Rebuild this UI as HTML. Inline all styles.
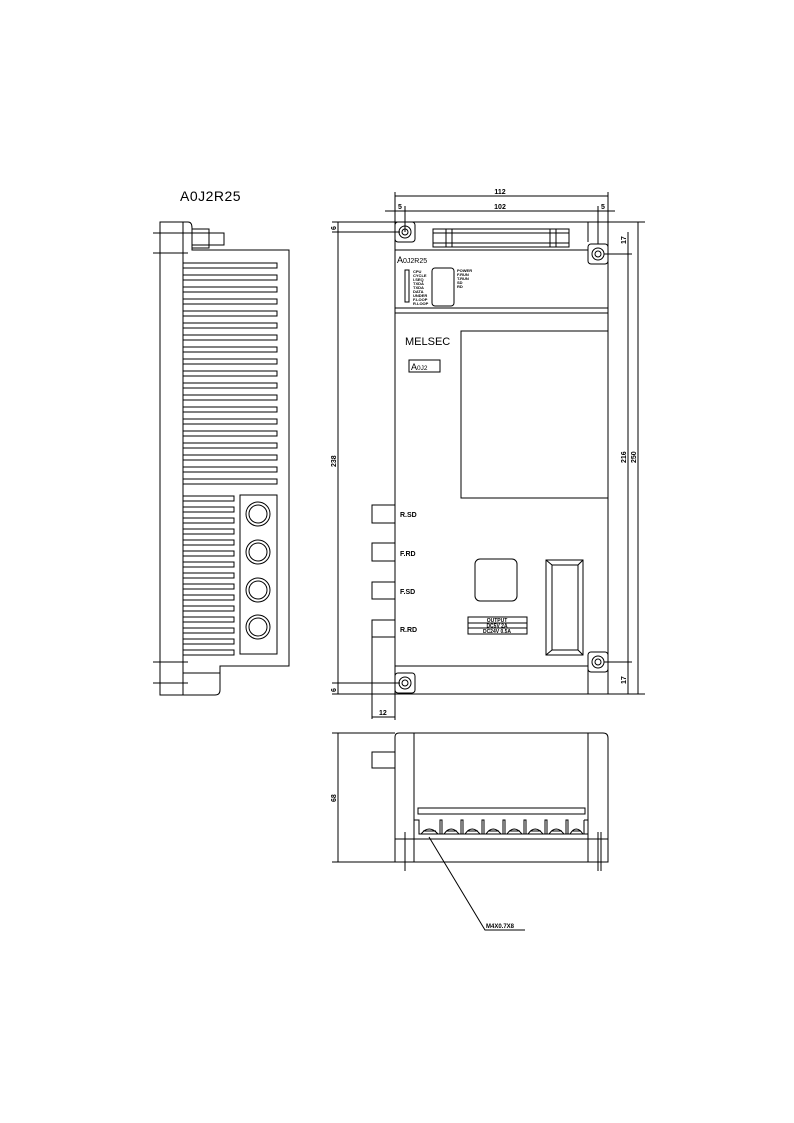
<!DOCTYPE html>
<html><head><meta charset="utf-8"><style>
html,body{margin:0;padding:0;background:#fff}
svg{display:block}
text{font-family:"Liberation Sans",sans-serif;fill:#000}
.d{font-size:7px;font-weight:bold}
</style></head><body>
<svg width="794" height="1123" viewBox="0 0 794 1123" xmlns="http://www.w3.org/2000/svg" fill="none" stroke="#000" stroke-width="1">
<!-- SIDE VIEW -->
<text x="180" y="201" stroke="none" style="font-size:14px;letter-spacing:0.5px">A0J2R25</text>
<path d="M160,222 H188 Q192,222 192,228 V250 H289 V666 H220 V690 Q220,695 215,695 H160 Z"/>
<line x1="183" y1="222" x2="183" y2="695"/>
<rect x="192" y="229" width="17" height="19"/>
<rect x="192" y="233" width="32" height="12"/>
<line x1="153" y1="233" x2="192" y2="233"/>
<line x1="153" y1="253" x2="188" y2="253"/>
<line x1="153" y1="662" x2="188" y2="662"/>
<line x1="153" y1="683" x2="188" y2="683"/>
<line x1="183" y1="673" x2="220" y2="673"/>
<g>
<rect x="183" y="263" width="94" height="5"/><rect x="183" y="275" width="94" height="5"/><rect x="183" y="287" width="94" height="5"/><rect x="183" y="299" width="94" height="5"/><rect x="183" y="311" width="94" height="5"/><rect x="183" y="323" width="94" height="5"/><rect x="183" y="335" width="94" height="5"/><rect x="183" y="347" width="94" height="5"/><rect x="183" y="359" width="94" height="5"/><rect x="183" y="371" width="94" height="5"/><rect x="183" y="383" width="94" height="5"/><rect x="183" y="395" width="94" height="5"/><rect x="183" y="407" width="94" height="5"/><rect x="183" y="419" width="94" height="5"/><rect x="183" y="431" width="94" height="5"/><rect x="183" y="443" width="94" height="5"/><rect x="183" y="455" width="94" height="5"/><rect x="183" y="467" width="94" height="5"/><rect x="183" y="479" width="94" height="5"/>
<rect x="183" y="496" width="51" height="5"/><rect x="183" y="507" width="51" height="5"/><rect x="183" y="518" width="51" height="5"/><rect x="183" y="529" width="51" height="5"/><rect x="183" y="540" width="51" height="5"/><rect x="183" y="551" width="51" height="5"/><rect x="183" y="562" width="51" height="5"/><rect x="183" y="573" width="51" height="5"/><rect x="183" y="584" width="51" height="5"/><rect x="183" y="595" width="51" height="5"/><rect x="183" y="606" width="51" height="5"/><rect x="183" y="617" width="51" height="5"/><rect x="183" y="628" width="51" height="5"/><rect x="183" y="639" width="51" height="5"/><rect x="183" y="650" width="51" height="5"/>
</g>
<rect x="240" y="495" width="37" height="159"/>
<circle cx="258" cy="514" r="12"/><circle cx="258" cy="514" r="9"/>
<circle cx="258" cy="552" r="12"/><circle cx="258" cy="552" r="9"/>
<circle cx="258" cy="590" r="12"/><circle cx="258" cy="590" r="9"/>
<circle cx="258" cy="627" r="12"/><circle cx="258" cy="627" r="9"/>

<!-- FRONT VIEW -->
<path d="M395,222 H608 V694 H395 Z"/>
<line x1="395" y1="250" x2="588" y2="250"/>
<line x1="588" y1="222" x2="588" y2="242"/>
<line x1="395" y1="308" x2="608" y2="308"/>
<line x1="395" y1="313" x2="608" y2="313"/>
<line x1="395" y1="666" x2="588" y2="666"/>
<line x1="588" y1="655" x2="588" y2="694"/>
<rect x="395" y="222" width="20" height="20" rx="3"/>
<circle cx="405" cy="232" r="6"/><circle cx="405" cy="232" r="3"/>
<rect x="588" y="244" width="20" height="20" rx="3"/>
<circle cx="598" cy="254" r="6"/><circle cx="598" cy="254" r="3"/>
<rect x="395" y="673" width="20" height="20" rx="3"/>
<circle cx="405" cy="683" r="6"/><circle cx="405" cy="683" r="3"/>
<rect x="588" y="652" width="20" height="20" rx="3"/>
<circle cx="598" cy="662" r="6"/><circle cx="598" cy="662" r="3"/>
<rect x="433" y="229" width="136" height="18"/>
<rect x="433" y="233" width="136" height="10"/>
<line x1="446" y1="229" x2="446" y2="247"/><line x1="452" y1="229" x2="452" y2="247"/>
<line x1="550" y1="229" x2="550" y2="247"/><line x1="556" y1="229" x2="556" y2="247"/>
<text x="397" y="263" stroke="none" style="font-size:9px">A<tspan style="font-size:7px">0J2R25</tspan></text>
<rect x="405" y="270" width="4" height="32"/>
<g stroke="none" style="font-size:4px;font-weight:bold">
<text x="413" y="273">CPU</text><text x="413" y="277">CYCLE</text><text x="413" y="281">I.SEQ</text><text x="413" y="285">TXDA</text><text x="413" y="289">TXDA</text><text x="413" y="293">DATA</text><text x="413" y="297">UNDER</text><text x="413" y="301">F.LOOP</text><text x="413" y="305">R.LOOP</text>
<text x="457" y="272">POWER</text><text x="457" y="276">F.RUN</text><text x="457" y="280">T.RUN</text><text x="457" y="284">SD</text><text x="457" y="288">RD</text>
</g>
<rect x="432" y="268" width="22" height="38" rx="3"/>
<text x="405" y="345" stroke="none" style="font-size:11px">MELSEC</text>
<rect x="409" y="360" width="31" height="12"/>
<text x="411" y="370" stroke="none" style="font-size:9px">A<tspan style="font-size:6.5px">0J2</tspan></text>
<rect x="461" y="331" width="147" height="167"/>
<rect x="372" y="505" width="23" height="18"/>
<rect x="372" y="543" width="23" height="18"/>
<rect x="372" y="582" width="23" height="17"/>
<path d="M372,719 V620 H395 M372,637 H395"/>
<g stroke="none" class="d"><text x="400" y="517">R.SD</text><text x="400" y="556">F.RD</text><text x="400" y="594">F.SD</text><text x="400" y="632">R.RD</text></g>
<rect x="475" y="559" width="42" height="42" rx="5"/>
<rect x="546" y="560" width="37" height="95"/>
<rect x="552" y="565" width="26" height="85"/>
<path d="M546,560 L552,565 M583,560 L578,565 M546,655 L552,650 M583,655 L578,650"/>
<rect x="468" y="617" width="59" height="17"/>
<line x1="468" y1="623" x2="527" y2="623"/><line x1="468" y1="628" x2="527" y2="628"/>
<g stroke="none" style="font-size:5px;font-weight:bold" text-anchor="middle"><text x="497" y="622">OUTPUT</text><text x="497" y="627.5">DC5V 2A</text><text x="497" y="633">DC24V 0.5A</text></g>
<path d="M395,222 V192 M608,222 V192 M395,196 H608 M405,232 V206 M598,244 V206 M398,211 H605 M385,211 H420 M583,211 H615"/>
<g stroke="none" class="d" text-anchor="middle"><text x="500" y="194">112</text><text x="500" y="209">102</text><text x="400" y="209">5</text><text x="603" y="209">5</text></g>
<path d="M338,222 V694 M332,222 H395 M332,232 H400 M332,683 H400 M332,694 H395"/>
<g stroke="none" class="d"><text transform="translate(336,230) rotate(-90)">6</text><text transform="translate(336,467) rotate(-90)">238</text><text transform="translate(336,692) rotate(-90)">6</text></g>
<path d="M608,222 H645 M608,694 H645 M638,222 V694 M604,254 H632 M604,662 H632 M628,232 V694"/>
<g stroke="none" class="d"><text transform="translate(626,244) rotate(-90)">17</text><text transform="translate(626,463) rotate(-90)">216</text><text transform="translate(636,463) rotate(-90)">250</text><text transform="translate(626,684) rotate(-90)">17</text></g>
<path d="M395,694 V720 M372,717 H395"/>
<text x="379" y="715" stroke="none" class="d">12</text>
<!-- BOTTOM VIEW -->
<path d="M399,733 H603 Q608,733 608,738 V862 H395 V737 Q395,733 399,733 Z"/>
<line x1="414" y1="733" x2="414" y2="862"/><line x1="588" y1="733" x2="588" y2="862"/>
<line x1="395" y1="839" x2="608" y2="839"/>
<path d="M418,808 H585 V814 H418 Z"/>
<path d="M414,820 H419 V834 H588 M584,820 H588"/>
<path d="M440,834 V820 H442 V834 M461,834 V820 H463 V834 M482,834 V820 H484 V834 M503,834 V820 H505 V834 M524,834 V820 H526 V834 M545,834 V820 H547 V834 M566,834 V820 H568 V834 M584,834 V820"/>
<path d="M421,834 Q429,824 438,834 M423,831 H436 M444,834 Q451,824 459,834 M446,831 H457 M465,834 Q472,824 480,834 M467,831 H478 M486,834 Q493,824 501,834 M488,831 H499 M507,834 Q514,824 522,834 M509,831 H520 M528,834 Q535,824 543,834 M530,831 H541 M549,834 Q556,824 564,834 M551,831 H562 M570,834 Q576,824 583,834 M572,831 H581"/>
<path d="M405,832 V871 M598,832 V871 M601,832 V871"/>
<rect x="372" y="752" width="23" height="16"/>
<path d="M338,733 V862 M332,733 H395 M332,862 H395"/>
<text transform="translate(336,802) rotate(-90)" stroke="none" class="d">68</text>
<path d="M429,837 L485,930 H525"/>
<text x="486" y="928" stroke="none" style="font-size:6px;font-weight:bold">M4X0.7X8</text>
</svg>
</body></html>
